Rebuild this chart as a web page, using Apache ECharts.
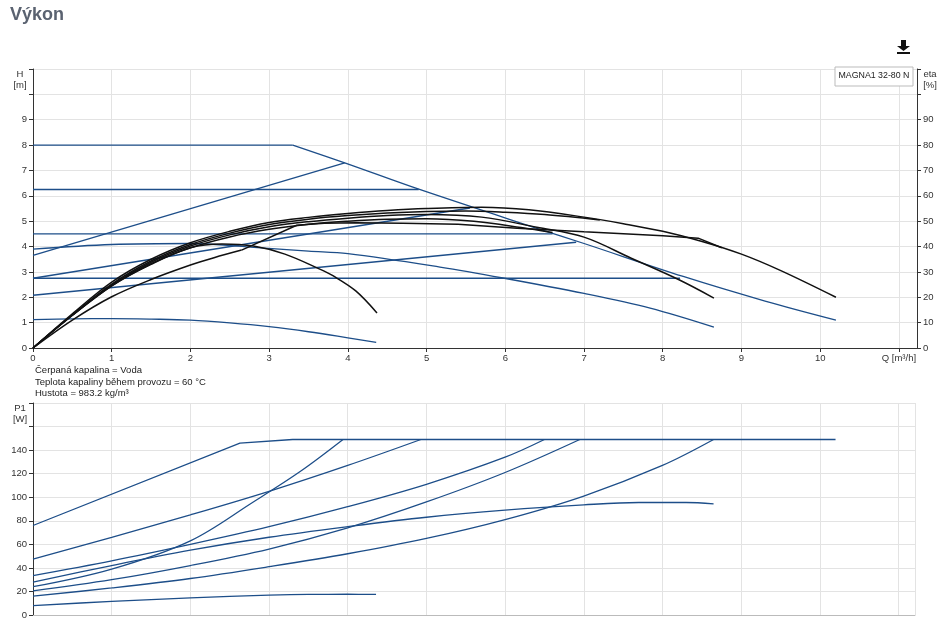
<!DOCTYPE html>
<html><head><meta charset="utf-8">
<script src="https://cdn.jsdelivr.net/npm/echarts@6/dist/echarts.min.js"></script>
<style>html,body{margin:0;padding:0;background:#fff}#c{width:948px;height:631px}</style>
</head><body><div id="c"></div>
<script>
// ---- Data (Q in m3/h) ----
// Head curves H [m] (blue)
const hMaxFlat = [[0,8],[3.3,8]];
const hMaxDrop = [[3.3,8],[3.96,7.3],[4.92,6.24],[6.4,4.72],[7,4.12],[8.26,2.82],[9.3,1.85],[10.2,1.1]];
const hProp1 = [[0,3.65],[3.96,7.3]];
const hConst1 = [[0,6.25],[4.9,6.25]];
const hConst2 = [[0,4.5],[6.6,4.5]];
const hSpeed = [[0,3.9],[1,4.08],[2,4.12],[2.76,3.98],[3.5,3.82],[4.0,3.72],[5.17,3.19],[5.97,2.76],[7,2.15],[7.84,1.57],[8.65,0.82]];
const hProp2 = [[0,2.75],[5.55,5.52]];
const hConst3 = [[0,2.75],[8.22,2.75]];
const hProp3 = [[0,2.08],[6.9,4.17]];
const hLow = [[0,1.12],[0.5,1.15],[1,1.16],[1.5,1.14],[2,1.1],[2.5,0.99],[3,0.84],[3.5,0.64],[4,0.4],[4.36,0.22]];
// Efficiency curves eta [%] (black)
const eta1 = [[0,0],[0.5,13.5],[1,26],[1.5,35],[2,41.5],[2.5,46],[3,49.5],[3.5,51.5],[4,53],[4.5,54.2],[5,55],[5.7,55.5],[6.3,54.5],[7,51.6],[7.5,49],[8,46],[8.5,42],[9,37],[9.5,30.5],[10.2,20]];
const eta2 = [[0,0],[0.5,13],[1,25.2],[1.5,34.3],[2,40.8],[2.5,45.3],[3,48.7],[3.5,50.8],[4,52.2],[4.5,53.2],[5,53.8],[5.5,54],[6,53.5],[6.5,52.6],[7.2,50.5]];
const eta3 = [[0,0],[0.5,13],[1,24.8],[1.5,33.8],[2,40.2],[2.5,44.6],[3,47.8],[3.5,49.8],[4,51.2],[4.5,52.2],[5,52.6],[5.7,51.6],[6.4,47.6],[7,43.7],[7.6,35.4],[8.2,27],[8.65,19.7]];
const eta4 = [[0,0],[0.5,12.8],[1,24.5],[1.5,33.2],[2,39.5],[2.5,43.8],[3,46.8],[3.5,48.8],[4,50],[4.5,50.8],[5,51],[5.6,50],[6.2,47.5],[6.6,45.5]];
const eta5 = [[0,0],[0.5,13],[1,24.5],[1.5,33],[2,39.5],[2.4,41],[2.8,40.2],[3.2,37],[3.65,31],[3.81,28.5],[4.1,22.5],[4.37,13.8]];
const eta6Low = [[0,0],[0.5,11],[1,20.2],[1.5,27],[2,32.7],[2.3,35.6],[2.65,38.6]];
const eta6Up = [[2.65,38.6],[3.35,48.4],[3.7,49.2],[4.1,49.4],[4.7,49.2],[5.4,48.8],[6.15,47.2],[7,45.8],[8,44.3],[8.45,43.3],[8.75,39.5]];
// Power curves P1 [W] (blue)
const pMax = [[0,76],[2.63,146],[3.3,149],[10.2,149]];
const pA = [[0,24],[1,39],[2,63],[2.8,96],[3.4,122],[3.94,149]];
const pB = [[0,47.5],[1,66],[2,85],[3,105],[4,127],[4.93,149]];
const pC = [[0,33.5],[1,46],[2,60],[3,75],[4,92],[5,111],[6,134],[6.5,149]];
const pD = [[0,20.5],[1,30],[2,42],[3,56],[4,74],[5,96],[6,121],[6.95,149]];
const pE = [[0,16],[1,23],[2,31],[3,41],[4,52],[5,65],[6,81],[7,101],[8,127],[8.65,149]];
const pSpeed = [[0,28],[1,42],[2,55],[3,66],[4,75],[5,83],[6,89],[7,93.5],[7.7,95.5],[8.3,95.5],[8.65,94.4]];
const pLow = [[0,8],[1,11.5],[2,14.5],[3,16.8],[3.5,17.5],[4,17.6],[4.36,17.5]];

const qLabelLast = 'Q [m³/h]';
const infoLines = ['Čerpaná kapalina = Voda','Teplota kapaliny během provozu = 60 °C','Hustota = 983.2 kg/m³'];
const legendText = 'MAGNA1 32-80 N';

const BLUE = '#1d4e89', BLACK = '#111', GRID = '#e3e3e3', AX = '#333';
const FONT = '"Liberation Sans", Arial, sans-serif';

function blue(data, x, y, smooth){ return {type:'line', xAxisIndex:x, yAxisIndex:y, data, showSymbol:false, smooth: smooth?0.35:false, lineStyle:{color:BLUE,width:1.3}, silent:true}; }
function black(data, smooth){ return {type:'line', xAxisIndex:0, yAxisIndex:1, data, showSymbol:false, smooth: smooth?0.35:false, lineStyle:{color:BLACK,width:1.5}, silent:true}; }

const chart = echarts.init(document.getElementById('c'), null, {renderer:'canvas'});
chart.setOption({
  animation:false,
  textStyle:{fontFamily:FONT},
  grid:[
    {left:33, right:31, top:69, bottom:283},
    {left:33, right:33, top:403, bottom:16}
  ],
  xAxis:[
    {gridIndex:0, type:'value', min:0, max:11.23, interval:1,
     axisLine:{show:true, onZero:false, lineStyle:{color:AX}},
     axisTick:{show:true, length:4, lineStyle:{color:AX}},
     axisLabel:{fontSize:9.5, color:AX, margin:5, fontFamily:FONT, showMaxLabel:false,
       formatter:v => (v===11 ? qLabelLast : (Number.isInteger(v) && v<=10 ? String(v) : ''))},
     splitLine:{show:true, lineStyle:{color:GRID}}},
    {gridIndex:1, type:'value', min:0, max:11.21, interval:1,
     axisLine:{show:true, onZero:false, lineStyle:{color:'#bbb'}},
     axisTick:{show:false}, axisLabel:{show:false},
     splitLine:{show:true, lineStyle:{color:GRID}}}
  ],
  yAxis:[
    {gridIndex:0, type:'value', min:0, max:11, interval:1, position:'left',
     axisLine:{show:true, onZero:false, lineStyle:{color:AX}},
     axisTick:{show:true, length:4, lineStyle:{color:AX}},
     axisLabel:{fontSize:9.5, color:AX, margin:6, fontFamily:FONT, formatter:v => (v<=9 ? String(v) : '')},
     splitLine:{show:true, lineStyle:{color:GRID}}},
    {gridIndex:0, type:'value', min:0, max:110, interval:10, position:'right',
     axisLine:{show:true, onZero:false, lineStyle:{color:AX}},
     axisTick:{show:true, length:4, lineStyle:{color:AX}},
     axisLabel:{fontSize:9.5, color:AX, margin:6, fontFamily:FONT, formatter:v => (v<=90 ? String(v) : '')},
     splitLine:{show:false}},
    {gridIndex:1, type:'value', min:0, max:180, interval:20, position:'left',
     axisLine:{show:true, onZero:false, lineStyle:{color:AX}},
     axisTick:{show:true, length:4, lineStyle:{color:AX}},
     axisLabel:{fontSize:9.5, color:AX, margin:6, fontFamily:FONT, formatter:v => (v<=140 ? String(v) : '')},
     splitLine:{show:true, lineStyle:{color:GRID}}}
  ],
  series:[
    blue(hMaxFlat,0,0,false), blue(hMaxDrop,0,0,true), blue(hProp1,0,0,false), blue(hConst1,0,0,false), blue(hConst2,0,0,false),
    blue(hSpeed,0,0,true), blue(hProp2,0,0,false), blue(hConst3,0,0,false), blue(hProp3,0,0,false), blue(hLow,0,0,true),
    black(eta1,true), black(eta2,true), black(eta3,true), black(eta4,true), black(eta5,true), black(eta6Low,true), black(eta6Up,false),
    blue(pMax,1,2,false), blue(pA,1,2,true), blue(pB,1,2,true), blue(pC,1,2,true), blue(pD,1,2,true),
    blue(pE,1,2,true), blue(pSpeed,1,2,true), blue(pLow,1,2,true)
  ],
  graphic:[
    {type:'text', left:10, top:6, style:{text:'Výkon', font:'bold 18px '+FONT, fill:'#5a6270'}},
    {type:'group', left:897, top:40, children:[
      {type:'rect', shape:{x:4, y:0, width:5, height:6}, style:{fill:'#111'}},
      {type:'polygon', shape:{points:[[0,6],[13,6],[6.5,11]]}, style:{fill:'#111'}},
      {type:'rect', shape:{x:0, y:12, width:13, height:2}, style:{fill:'#111'}}
    ]},
    {type:'rect', shape:{x:835, y:67, width:78, height:19}, style:{fill:'#fff', stroke:'#bbb', lineWidth:1}, z:10},
    {type:'text', x:838.5, y:71.5, style:{text:legendText, font:'8.8px '+FONT, fill:'#222'}, z:11},
    {type:'text', x:20, y:69, style:{text:'H\n[m]', font:'9.5px '+FONT, fill:AX, align:'center', lineHeight:11}},
    {type:'text', x:930, y:69, style:{text:'eta\n[%]', font:'9.5px '+FONT, fill:AX, align:'center', lineHeight:11}},
    {type:'text', x:20, y:403, style:{text:'P1\n[W]', font:'9.5px '+FONT, fill:AX, align:'center', lineHeight:11}},
    {type:'text', x:35, y:365, style:{text:infoLines.join('\n'), font:'9.5px '+FONT, fill:'#222', lineHeight:11.5}}
  ]
});
</script></body></html>
